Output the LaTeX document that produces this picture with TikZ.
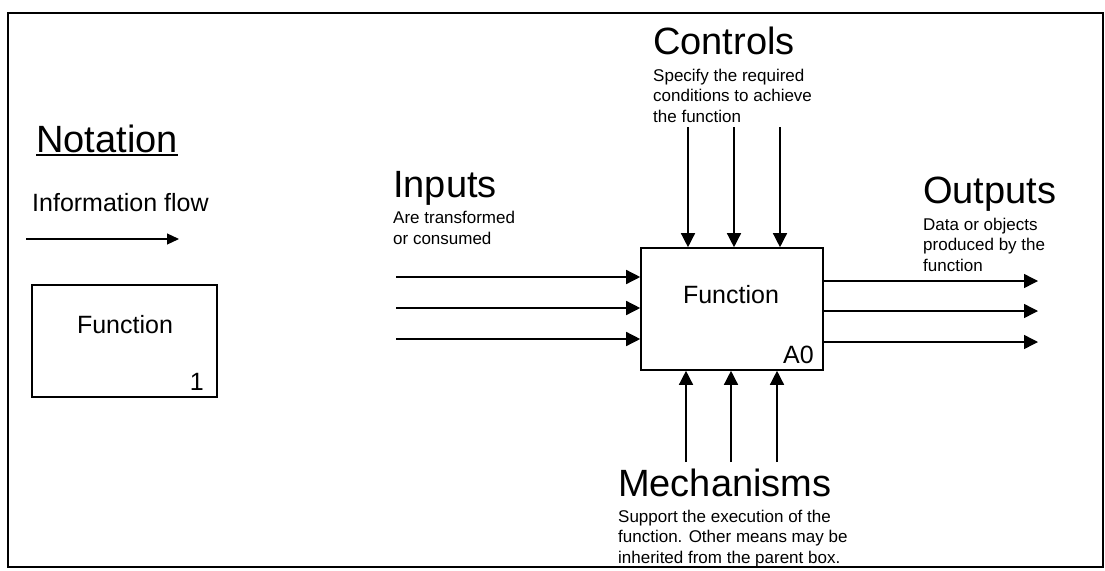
\documentclass[tikz,border=0pt]{standalone}
\usepackage{fontspec}
\setmainfont{Liberation Sans}
\usetikzlibrary{arrows.meta}
\tikzset{
  big/.style={font=\fontsize{38}{40}\selectfont, inner sep=0pt, anchor=base west},
  mid/.style={font=\fontsize{25}{28}\selectfont, inner sep=0pt},
  small/.style={font=\fontsize{17}{20.5}\selectfont, inner sep=0pt, anchor=base west, align=left},
  flow/.style={line width=1.4pt, -{Triangle[length=14pt,width=14pt]}},
  boxstyle/.style={draw, line width=1.6pt, rectangle, inner sep=0pt},
}
\begin{document}
\begin{tikzpicture}[x=1pt,y=-1pt]
\useasboundingbox (0,0) rectangle (1105,570);
% frame
\draw[line width=1.8pt] (8,13) rectangle (1103,567);

% Notation area
\node[big] (nota) at (36,152) {Notation};
\draw[line width=2.4pt] ([yshift=-3pt]nota.base west) -- ([yshift=-3pt]nota.base east);
\node[mid, anchor=base west] (infoflow) at (32,211) {Information flow};
\coordinate (nf1) at (26,239);
\coordinate (nf2) at (179,239);
\draw[line width=1.2pt, -{Triangle[length=12pt,width=11pt]}] (nf1) -- (nf2);
\node[boxstyle, minimum width=185pt, minimum height=112pt] (nbox) at (124.5,341) {};
\node[mid, anchor=base] (nfunc) at (125,333) {Function};
\node[mid, anchor=base east] (none) at (204,390) {1};

% Main function box
\node[boxstyle, minimum width=182pt, minimum height=122pt] (box) at (732,309) {};
\node[mid, anchor=base] (bfunc) at (731,303) {Function};
\node[mid, anchor=base east] (aid) at (814,363) {A0};

% Inputs
\node[big] (inputs) at (393,197) {Inputs};
\node[small] (intext) at (393,244) {Are transformed\\or consumed};
\coordinate (i1) at (396,277);
\coordinate (i2) at (396,308);
\coordinate (i3) at (396,339);
\foreach \c in {i1,i2,i3} \draw[flow] (\c) -- (\c -| box.west);

% Controls
\node[big] (controls) at (653,54) {Controls};
\node[small] (ctext) at (653,122) {Specify the required\\conditions to achieve\\the function};
\coordinate (c1) at (688,127);
\coordinate (c2) at (734,127);
\coordinate (c3) at (780,127);
\foreach \c in {c1,c2,c3} \draw[flow] (\c) -- (\c |- box.north);

% Outputs
\node[big] (outputs) at (923,203) {Outputs};
\node[small] (otext) at (923,271) {Data or objects\\produced by the\\function};
\coordinate (o1) at (1038,281);
\coordinate (o2) at (1038,311);
\coordinate (o3) at (1038,342);
\foreach \c in {o1,o2,o3} \draw[flow] (\c -| box.east) -- (\c);

% Mechanisms
\node[big] (mechs) at (618,496) {Mechanisms};
\node[small] (mtext) at (618,563) {Support the execution of the\\function. Other means may be\\inherited from the parent box.};
\coordinate (m1) at (686,462);
\coordinate (m2) at (731,462);
\coordinate (m3) at (777,462);
\foreach \c in {m1,m2,m3} \draw[flow] (\c) -- (\c |- box.south);
\end{tikzpicture}
\end{document}
